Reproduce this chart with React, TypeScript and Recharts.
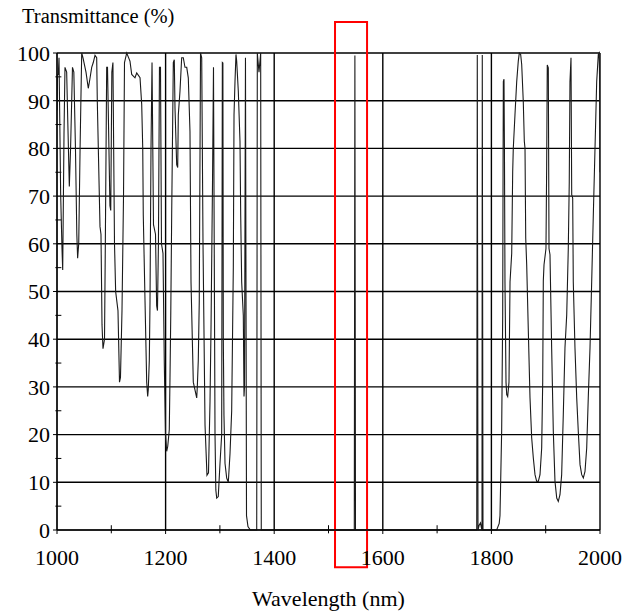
import React from 'react';
import {
  LineChart,
  Line,
  XAxis,
  YAxis,
  CartesianGrid,
  ReferenceLine,
  ReferenceArea,
} from 'recharts';

// spectrum, nm / %
const wavelengths = [
  1000, 1001, 1002.4, 1003.7, 1006.8, 1009.2, 1010.5, 1012.9, 1014.7, 1017.8,
  1020, 1022.7, 1025, 1028.5, 1031, 1034, 1036.5, 1038, 1040, 1042.5,
  1045.5, 1047.9, 1053.4, 1057.6, 1060.5, 1063.9, 1066.8, 1070, 1073.1, 1074.2,
  1079.2, 1081, 1082.9, 1084.7, 1087.5, 1089, 1091.5, 1093, 1097.5, 1099,
  1101, 1103, 1105.9, 1108, 1112.3, 1115.1, 1116.9, 1119.7, 1122.5, 1124.3,
  1128.4, 1134.4, 1137.6, 1143.6, 1146.8, 1152.9, 1156, 1157.9, 1158.9, 1162.1,
  1165.2, 1167, 1168.1, 1170, 1171.3, 1173.1, 1175, 1177.7, 1181.4, 1183.5,
  1185, 1186.8, 1188.7, 1190.6, 1192.4, 1195.2, 1197.6, 1199.8, 1202, 1203.9,
  1206.8, 1208.1, 1209.5, 1211.2, 1214.2, 1216, 1217.3, 1220.4, 1222.3, 1223.4,
  1226.5, 1229.6, 1232.6, 1235.7, 1238.9, 1241.8, 1244.9, 1246.8, 1251, 1257.3,
  1258.4, 1260.2, 1262, 1264.3, 1266.5, 1268.9, 1272.6, 1276.2, 1279, 1281.8,
  1283.6, 1286.4, 1288.2, 1291, 1292.5, 1294.1, 1297, 1300.2, 1303.3, 1304.5,
  1305.5, 1306.3, 1307.5, 1309.4, 1312.5, 1315.5, 1318.6, 1321.7, 1324.7, 1326,
  1327.8, 1329.6, 1330.9, 1333.9, 1337, 1338.3, 1340.1, 1343.1, 1344.4, 1345.3,
  1347.1, 1349, 1351.7, 1356, 1367.8, 1368.9, 1372, 1375.1, 1376.2, 1547.5,
  1548.6, 1549.7, 1773, 1774, 1775.3, 1777.5, 1779.9, 1781.5, 1782.7, 1783.2,
  1784.5, 1788, 1809.7, 1814.4, 1815.8, 1817.1, 1818.9, 1820.8, 1821.5, 1822,
  1823.2, 1824, 1825, 1826.9, 1828.2, 1830, 1832.4, 1834.3, 1837.4, 1839.2,
  1840.3, 1843.4, 1846.6, 1849.5, 1851.4, 1853.9, 1855.8, 1858.7, 1860.6, 1861.9,
  1863.2, 1865, 1868, 1871.1, 1874.2, 1877.2, 1880.3, 1883.4, 1886.4, 1889.5,
  1892.6, 1894.5, 1895.6, 1896.9, 1900.5, 1901.8, 1902.9, 1904.8, 1906.1, 1907.9,
  1911, 1914, 1917.1, 1920.3, 1923.2, 1926.3, 1929.4, 1932.4, 1935.5, 1938.7,
  1941.6, 1943.4, 1944.7, 1946.6, 1947.9, 1949.7, 1950.8, 1953.9, 1957.1, 1960,
  1963.2, 1966.3, 1969.3, 1972.4, 1975.5, 1978.4, 1981.6, 1984.7, 1987.7, 1990.8,
  1993.9, 1996.9, 1998.5, 1999.2, 2000,
];

const transmittance = [
  88, 95.5, 95.5, 99, 70, 59, 54.5, 83, 97, 96,
  85, 72, 80, 97, 96, 80, 62, 57, 60, 80,
  100, 99, 96, 92.6, 94.5, 97, 98, 99.5, 99, 90,
  63.6, 62, 43, 38, 40, 60, 97, 97, 68, 67,
  96, 98, 60, 50, 46, 31, 32, 46, 70, 98,
  100, 98.3, 95.5, 94.8, 95.8, 94.8, 89.2, 80, 66, 48,
  31, 28, 29.4, 35.6, 48, 80, 98, 64, 62, 47,
  46, 60, 97, 97, 60, 58, 35, 20, 16.5, 17.5,
  21, 32, 45, 66, 98, 98.6, 88.5, 76.6, 76, 87,
  92, 99, 99, 97, 97, 94.8, 83.6, 52, 31, 27.7,
  30, 35.6, 48, 100, 99, 60, 22, 11.5, 12, 27,
  42, 73, 97, 20, 8.4, 6.7, 7, 14, 20, 98,
  97.9, 40, 24, 14, 10.9, 10, 16, 25, 55, 87,
  94, 99.7, 98.3, 92, 81.5, 66, 52, 45, 28, 30,
  99, 3, 0.7, 0, 0, 100, 96, 100, 0, 0,
  99.5, 0, 0, 99.6, 0, 1, 1.5, 0.5, 0, 99.6,
  0, 0, 0, 1.4, 3, 10.3, 20.8, 45, 76, 94,
  94.5, 80, 52, 31, 28.4, 28, 31, 52, 58, 75,
  80, 87, 94, 98.3, 100, 99.7, 97.6, 89.9, 81.5, 80,
  61.2, 55.6, 41.7, 27.7, 19.3, 15.1, 11.6, 10.2, 10.2, 11.6,
  17.2, 31.2, 52.2, 55.6, 59, 76.6, 97.5, 96.9, 59, 57.7,
  38, 20.7, 10.2, 6.7, 6, 7.4, 11.6, 24.2, 38.2, 45.1,
  59, 73, 94, 99, 70.3, 69.6, 52, 38.2, 27.7, 20.7,
  13.7, 11.6, 10.9, 12.3, 17.2, 27.7, 38.2, 52.1, 66.1, 80,
  94, 99.7, 100, 95, 75,
];

const xTicks = [1000, 1200, 1400, 1600, 1800, 2000];
const xMinorTicks = [1100, 1300, 1500, 1700, 1900];
const yTicks = [0, 10, 20, 30, 40, 50, 60, 70, 80, 90, 100];
const yMinorTicks = [5, 15, 25, 35, 45, 55, 65, 75, 85, 95];

// highlighted band (red frame)
const bandStart = 1512;
const bandEnd = 1571;

const chartData = wavelengths.map((wl, i) => ({ wl, t: transmittance[i] }));

const FONT = 'Liberation Serif, DejaVu Serif, Times New Roman, Times, serif';
const tickStyle = { fontSize: 22, fill: '#000', fontFamily: FONT };

const App: React.FC = () => {
  return (
    <div style={{ position: 'relative', width: 625, height: 605, fontFamily: FONT }}>
      <div
        style={{
          position: 'absolute',
          left: 14,
          top: -3,
          fontSize: 20.5,
          lineHeight: '22px',
          color: '#000',
          whiteSpace: 'nowrap',
          fontFamily: FONT,
        }}
      >
        Transmittance (%)
      </div>
      <LineChart
        width={625}
        height={605}
        data={chartData}
        margin={{ top: 45, right: 33, left: 9, bottom: 53 }}
        style={{ fontFamily: FONT }}
      >
        <CartesianGrid stroke="#000" strokeWidth={1.4} />
        <XAxis
          dataKey="wl"
          type="number"
          domain={[1000, 2000]}
          ticks={xTicks}
          allowDataOverflow
          height={30}
          tickSize={4}
          tickMargin={15}
          tick={tickStyle}
          stroke="#000"
        />
        <YAxis
          type="number"
          domain={[0, 100]}
          ticks={yTicks}
          width={40}
          tickSize={4}
          tickMargin={3}
          tick={tickStyle}
          stroke="#000"
        />
        {xMinorTicks.map((x) => (
          <ReferenceLine
            key={`xm-${x}`}
            segment={[
              { x, y: -0.7 },
              { x, y: 1 },
            ]}
            stroke="#000"
            strokeWidth={1}
            ifOverflow="visible"
          />
        ))}
        {yMinorTicks.map((y) => (
          <ReferenceLine
            key={`ym-${y}`}
            segment={[
              { x: 997, y },
              { x: 1008, y },
            ]}
            stroke="#000"
            strokeWidth={1}
            ifOverflow="visible"
          />
        ))}
        <Line
          type="linear"
          dataKey="t"
          stroke="#1a1a1a"
          strokeWidth={1.1}
          dot={false}
          isAnimationActive={false}
        />
        <ReferenceArea
          x1={bandStart}
          x2={bandEnd}
          y1={-7.8}
          y2={106.5}
          ifOverflow="visible"
          fill="none"
          fillOpacity={0}
          stroke="#ff0000"
          strokeWidth={2}
        />
      </LineChart>
      <div
        style={{
          position: 'absolute',
          left: 49,
          width: 543,
          top: 580,
          textAlign: 'center',
          fontSize: 22,
          lineHeight: '22px',
          color: '#000',
          whiteSpace: 'nowrap',
          fontFamily: FONT,
        }}
      >
        Wavelength (nm)
      </div>
    </div>
  );
};

export default App;
